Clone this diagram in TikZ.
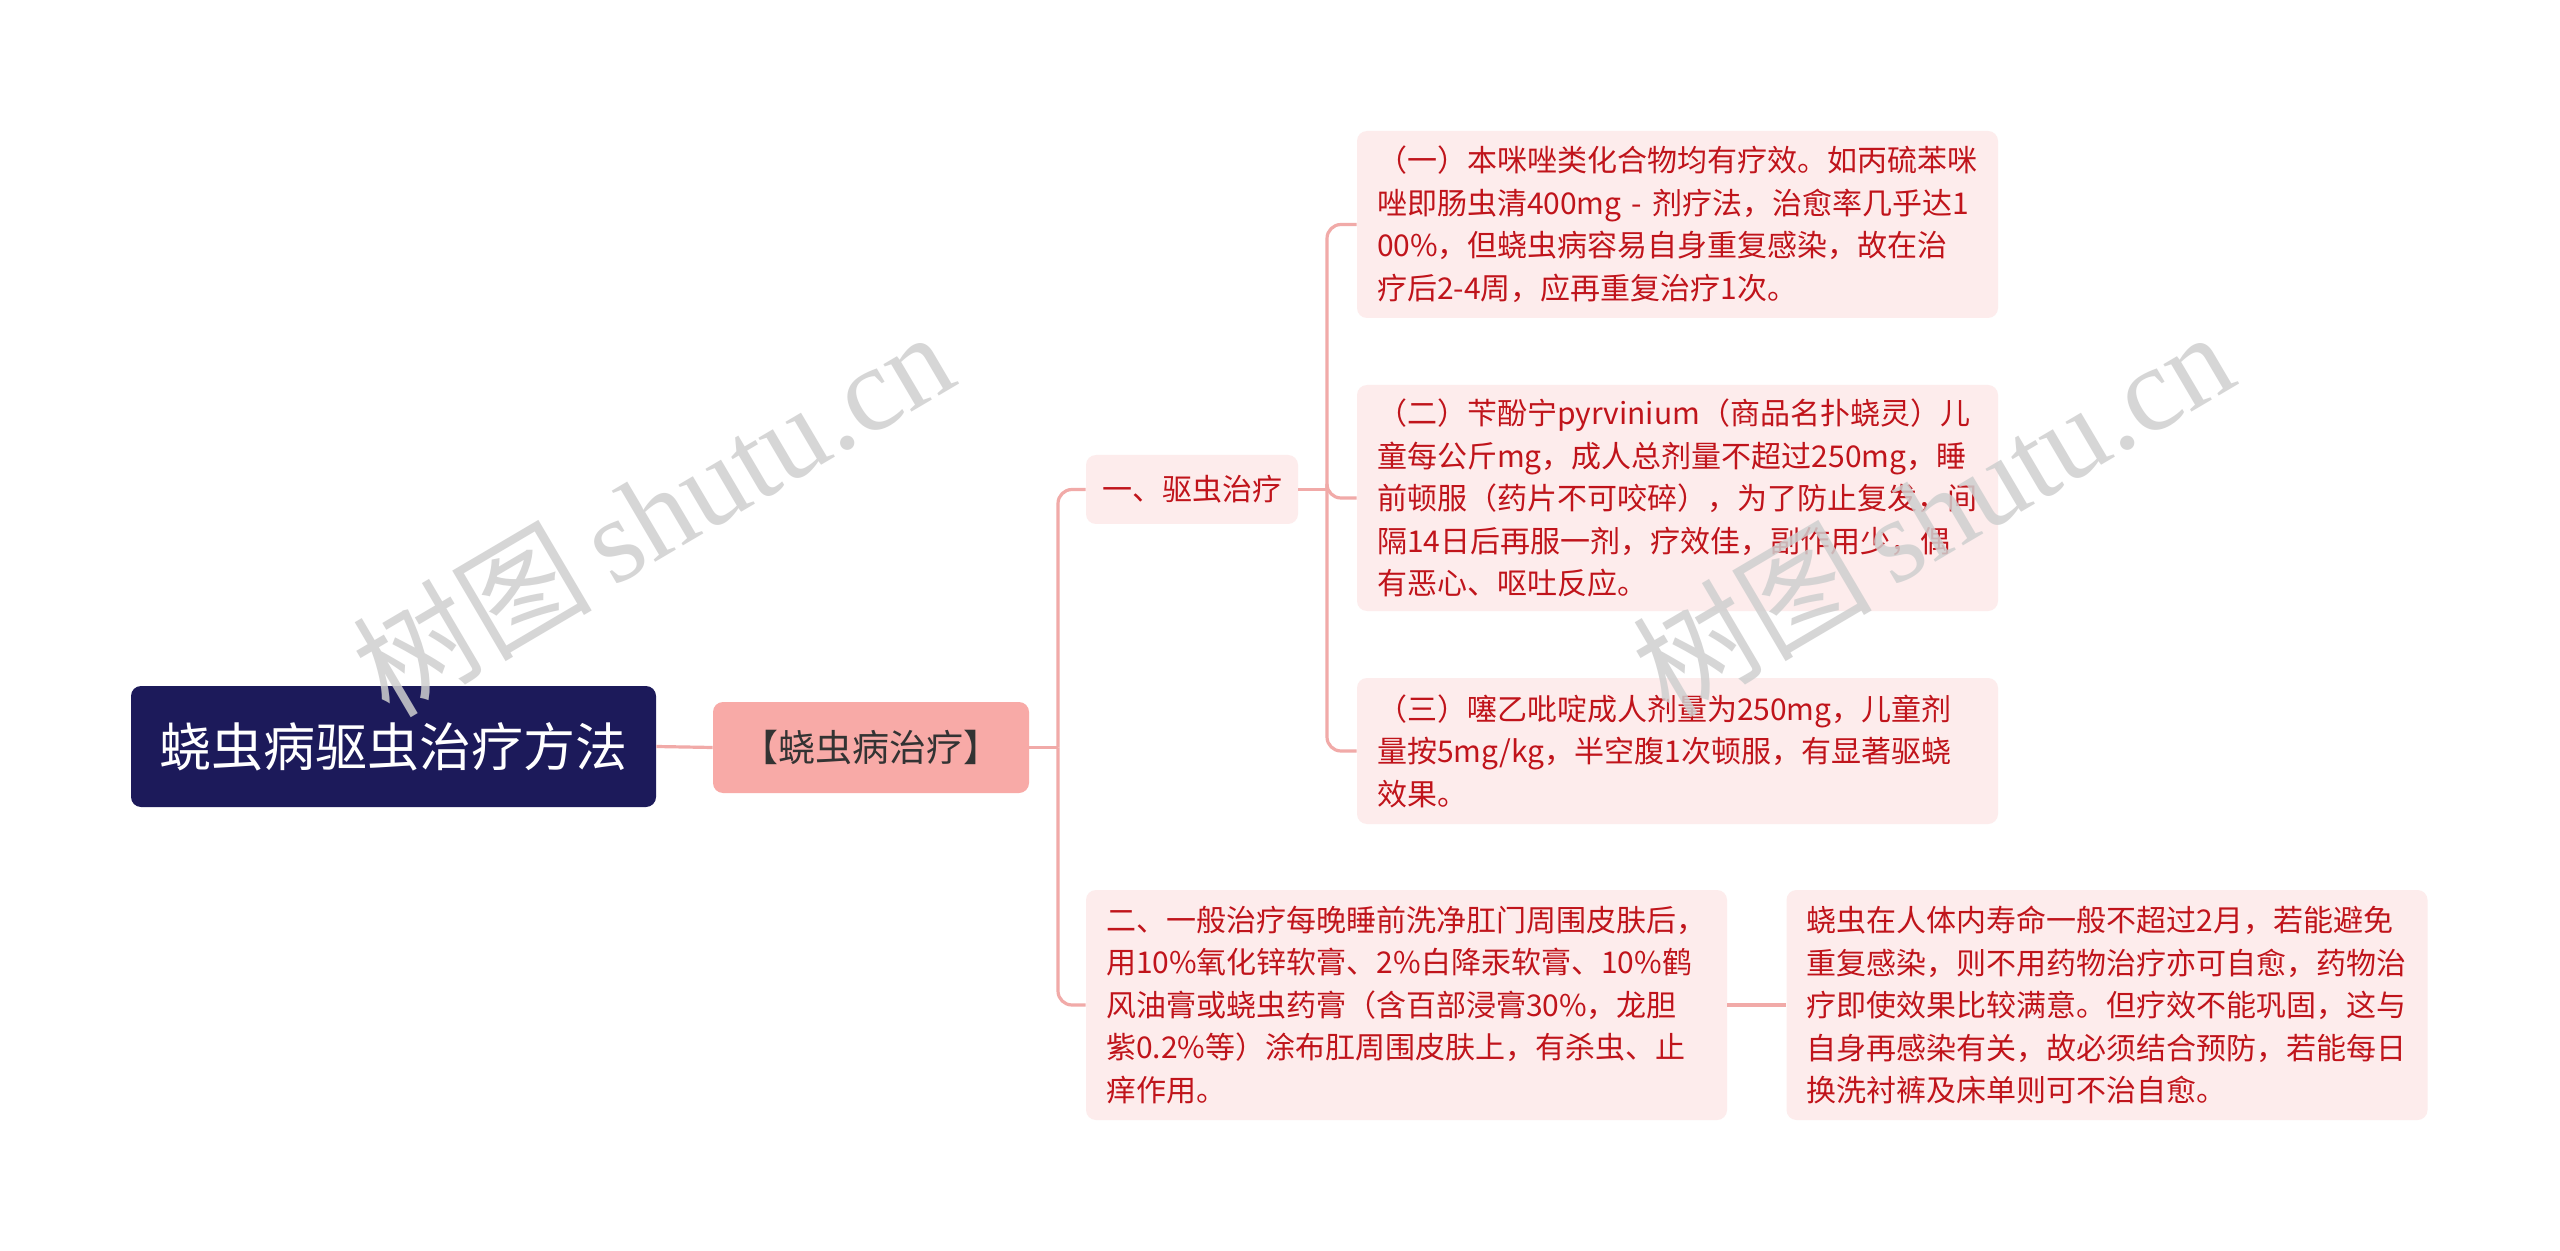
\documentclass[tikz,border=0pt]{standalone}
\usepackage{fontspec}
\newfontfamily\cjk{Noto Sans CJK SC}
\newfontfamily\wmserif{Liberation Serif}
\definecolor{navy}{HTML}{1C1A5A}
\definecolor{lvlone}{HTML}{F8AAA7}
\definecolor{lightbox}{HTML}{FDECEC}
\definecolor{redtext}{HTML}{C0141B}
\definecolor{conncol}{HTML}{F1AAA8}
\definecolor{darktext}{HTML}{333333}
\definecolor{wmcol}{HTML}{CFCFCF}
\tikzset{
  rootbox/.style={fill=navy, rounded corners=5pt, minimum width=262.5pt, minimum height=60.5pt,
    text=white, font=\cjk\fontsize{26}{32}\selectfont, inner sep=0pt},
  onebox/.style={fill=lvlone, rounded corners=5pt, minimum width=158pt, minimum height=45.5pt,
    text=darktext, font=\cjk\fontsize{18.5}{24}\selectfont, inner sep=0pt},
  twobox/.style={fill=lightbox, rounded corners=5pt, minimum width=106pt, minimum height=34.5pt,
    text=redtext, font=\cjk\fontsize{15}{21.25}\selectfont, inner sep=0pt},
  leafbox/.style={fill=lightbox, rounded corners=5pt, minimum width=320.5pt, inner xsep=10pt, inner ysep=0pt,
    text width=300.5pt, align=left, text=redtext, font=\cjk\fontsize{15}{21.25}\selectfont},
  conn/.style={draw=conncol, line width=1.6pt, rounded corners=7pt},
  wmark/.style={text=wmcol, opacity=0.85, rotate=30.5, font=\fontsize{60}{60}\selectfont}
}
\begin{document}
\begin{tikzpicture}[x=0.5pt,y=-0.5pt]
\useasboundingbox[fill=white] (0,0) rectangle (2560,1251);

\node[rootbox] (root) at (393.5,746.5) {蛲虫病驱虫治疗方法};
\node[onebox] (l1) at (871,747.5) {【蛲虫病治疗】};
\node[twobox] (l2a) at (1192,489.5) {一、驱虫治疗};

\node[leafbox, minimum height=93.5pt] (b1) at (1677.5,224.5) {（一）本咪唑类化合物均有疗效。如丙硫苯咪\\唑即肠虫清400mg - 剂疗法，治愈率几乎达1\\00\%，但蛲虫病容易自身重复感染，故在治\\疗后2-4周，应再重复治疗1次。};
\node[leafbox, minimum height=113pt] (b2) at (1677.5,498) {（二）苄酚宁pyrvinium（商品名扑蛲灵）儿\\童每公斤mg，成人总剂量不超过250mg，睡\\前顿服（药片不可咬碎），为了防止复发，间\\隔14日后再服一剂，疗效佳，副作用少，偶\\有恶心、呕吐反应。};
\node[leafbox, minimum height=73pt] (b3) at (1677.5,751) {（三）噻乙吡啶成人剂量为250mg，儿童剂\\量按5mg/kg，半空腹1次顿服，有显著驱蛲\\效果。};

\node[leafbox, minimum height=115pt] (l2b) at (1406.5,1005) {二、一般治疗每晚睡前洗净肛门周围皮肤后，\\用10\%氧化锌软膏、2\%白降汞软膏、10\%鹤\\风油膏或蛲虫药膏（含百部浸膏30\%，龙胆\\紫0.2\%等）涂布肛周围皮肤上，有杀虫、止\\痒作用。};
\node[leafbox, minimum height=115pt] (b4) at (2107,1005) {蛲虫在人体内寿命一般不超过2月，若能避免\\重复感染，则不用药物治疗亦可自愈，药物治\\疗即使效果比较满意。但疗效不能巩固，这与\\自身再感染有关，故必须结合预防，若能每日\\换洗衬裤及床单则可不治自愈。};

% connectors
\draw[conn] (root.east) -- (l1.west);
\coordinate (t1) at (1058,747.5);
\draw[conn] (l1.east) -- (t1);
\draw[conn] (t1) |- (l2a.west);
\draw[conn] (t1) |- (l2b.west);
\coordinate (t2) at (1327,489.5);
\draw[conn] (l2a.east) -- (t2);
\draw[conn] (t2) |- (b1.west);
\draw[conn] (t2) |- (b2.west);
\draw[conn] (t2) |- (b3.west);
\draw[conn] (l2b.east) -- (b4.west);

% watermarks
\node[wmark] (wm1) at (652,512) {\cjk 树图\,\wmserif shutu.cn};
\node[wmark] (wm2) at (1932,512) {\cjk 树图\,\wmserif shutu.cn};
\end{tikzpicture}
\end{document}
